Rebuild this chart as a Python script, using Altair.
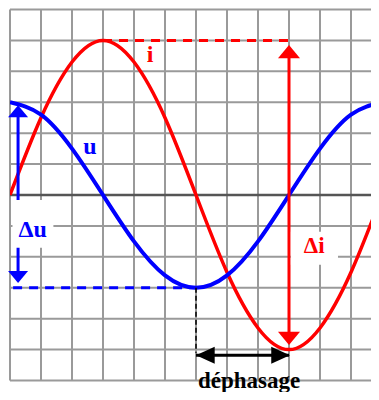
import altair as alt
import pandas as pd

RED = "#ff0000"
BLUE = "#0000ff"
BLACK = "#000000"
GRID = "#9a9a9a"
X_MAX = 11.645

# oscilloscope grid (divisions)
grid_x = [0, 1, 2, 3, 4, 5, 6, 7, 8, 9, 10, 11]
grid_y = [-6, -5, -4, -3, -2, -1, 0, 1, 2, 3, 4, 5, 6]

# curves read at each vertical grid line (divisions)
t = [0, 1, 2, 3, 4, 5, 6, 7, 8, 9, 10, 11, 12]
i_vals = [0, 2.5, 4.3, 5.0, 4.3, 2.5, 0, -2.5, -4.3, -5.0, -4.3, -2.5, 0]
u_vals = [3.0, 2.6, 1.5, 0, -1.5, -2.6, -3.0, -2.6, -1.5, 0, 1.5, 2.6, 3.0]

# annotation geometry (divisions)
shafts = pd.DataFrame({
    "x": [9.0, 0.26, 6.0], "x2": [9.0, 0.26, 9.0],
    "y": [4.7, 2.7, -5.18], "y2": [-4.7, -2.7, -5.18],
    "col": [RED, BLUE, BLACK],
})
dashes = pd.DataFrame({
    "x": [3.0, 0.1], "x2": [9.0, 6.0],
    "y": [5.0, -3.0], "y2": [5.0, -3.0],
    "col": [RED, BLUE],
})
heads = pd.DataFrame({
    "x": [9.0, 9.0, 0.26, 0.26, 6.0, 9.03],
    "y": [4.85, -4.85, 2.9, -2.85, -5.18, -5.18],
    "dir": ["up", "down", "up", "down", "left", "right"],
    "col": [RED, RED, BLUE, BLUE, BLACK, BLACK],
    "sz": [484, 484, 400, 400, 289, 289],
})
boxes = pd.DataFrame({
    "x": [0.08, 9.06], "x2": [1.4, 10.58],
    "y": [-0.16, -1.19], "y2": [-1.71, -2.26],
})
labels = pd.DataFrame({
    "x": [4.52, 2.58, 0.73, 9.81, 7.71],
    "y": [4.30, 1.33, -1.36, -1.88, -6.25],
    "text": ["i", "u", "\u0394u", "\u0394i", "d\u00e9phasage"],
    "col": [RED, BLUE, BLUE, RED, BLACK],
    "fs": [24, 24, 24, 23, 23],
})

xs = alt.Scale(domain=[0, X_MAX], nice=False, zero=False)
ys = alt.Scale(domain=[-6, 6], nice=False, zero=False)

vg = pd.DataFrame({"x": grid_x, "y": [-6] * len(grid_x), "y2": [6] * len(grid_x)})
hg_vals = [v for v in grid_y if v != 0]
hg = pd.DataFrame({"y": hg_vals, "x": [0] * len(hg_vals), "x2": [X_MAX] * len(hg_vals)})
cg = pd.DataFrame({"y": [0], "x": [0], "x2": [X_MAX]})

vgrid = alt.Chart(vg).mark_rule(color=GRID, strokeWidth=2).encode(
    x=alt.X("x:Q", scale=xs, axis=None),
    y=alt.Y("y:Q", scale=ys, axis=None), y2="y2:Q")
hgrid = alt.Chart(hg).mark_rule(color=GRID, strokeWidth=2).encode(
    y=alt.Y("y:Q", scale=ys, axis=None),
    x=alt.X("x:Q", scale=xs, axis=None), x2="x2:Q")
center = alt.Chart(cg).mark_rule(color="#555555", strokeWidth=2.5).encode(
    y=alt.Y("y:Q", scale=ys, axis=None),
    x=alt.X("x:Q", scale=xs, axis=None), x2="x2:Q")

curves = pd.DataFrame({"t": t, "i": i_vals, "u": u_vals})
i_line = alt.Chart(curves).mark_line(color=RED, strokeWidth=3.5, interpolate="natural", clip=True).encode(
    x=alt.X("t:Q", scale=xs, axis=None), y=alt.Y("i:Q", scale=ys, axis=None))
u_line = alt.Chart(curves).mark_line(color=BLUE, strokeWidth=4, interpolate="natural", clip=True).encode(
    x=alt.X("t:Q", scale=xs, axis=None), y=alt.Y("u:Q", scale=ys, axis=None))

dash_layer = alt.Chart(dashes).mark_rule(strokeWidth=3, strokeDash=[9, 7]).encode(
    x=alt.X("x:Q", scale=xs, axis=None), x2="x2:Q",
    y=alt.Y("y:Q", scale=ys, axis=None), y2="y2:Q",
    color=alt.Color("col:N", scale=None))
ph_dash = alt.Chart(pd.DataFrame({"x": [6.0], "y": [-3.0], "y2": [-5.1]})).mark_rule(
    strokeWidth=1.5, strokeDash=[5, 3], color=BLACK).encode(
    x=alt.X("x:Q", scale=xs, axis=None), y=alt.Y("y:Q", scale=ys, axis=None), y2="y2:Q")
shaft_layer = alt.Chart(shafts).mark_rule(strokeWidth=3).encode(
    x=alt.X("x:Q", scale=xs, axis=None), x2="x2:Q",
    y=alt.Y("y:Q", scale=ys, axis=None), y2="y2:Q",
    color=alt.Color("col:N", scale=None))
box_layer = alt.Chart(boxes).mark_rect(color="white").encode(
    x=alt.X("x:Q", scale=xs, axis=None), x2="x2:Q",
    y=alt.Y("y:Q", scale=ys, axis=None), y2="y2:Q")
text_layer = alt.Chart(labels).mark_text(
    font="Liberation Serif", fontWeight="bold", baseline="alphabetic", align="center").encode(
    x=alt.X("x:Q", scale=xs, axis=None), y=alt.Y("y:Q", scale=ys, axis=None),
    text="text:N", color=alt.Color("col:N", scale=None),
    size=alt.Size("fs:Q", scale=None))
head_layer = alt.Chart(heads).mark_point(filled=True, opacity=1, strokeWidth=0).encode(
    x=alt.X("x:Q", scale=xs, axis=None), y=alt.Y("y:Q", scale=ys, axis=None),
    shape=alt.Shape("dir:N", legend=None, scale=alt.Scale(
        domain=["up", "down", "left", "right"],
        range=["M0,0L-1,1.2L1,1.2Z", "M0,0L-1,-1.2L1,-1.2Z",
               "M0,0L2.2,-1L2.2,1Z", "M0,0L-2.2,-1L-2.2,1Z"])),
    color=alt.Color("col:N", scale=None),
    size=alt.Size("sz:Q", scale=None))

chart = alt.layer(
    vgrid, hgrid, center, i_line, u_line, dash_layer, ph_dash,
    shaft_layer, box_layer, text_layer, head_layer
).properties(
    width=361, height=371,
    padding={"left": 2, "top": 1.5, "right": 0, "bottom": 11.5},
    autosize=alt.AutoSizeParams(type="none"),
    background="white",
).configure_view(stroke=None)

chart.save("out.html", embed_options={"renderer": "svg", "actions": False})
